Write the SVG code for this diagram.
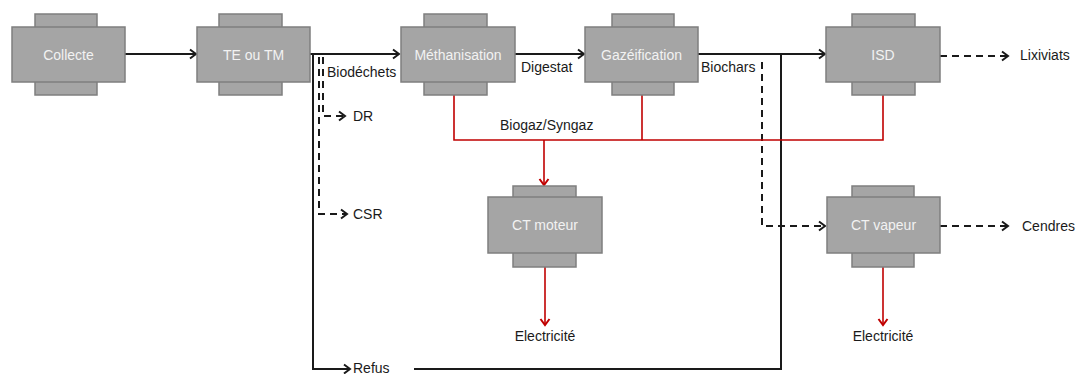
<svg xmlns="http://www.w3.org/2000/svg" width="1076" height="374" viewBox="0 0 1076 374">
<style>
.box{fill:#a5a5a5;stroke:#7f7f7f;stroke-width:1.5}
.nt{font-family:"Liberation Sans",Arial,sans-serif;font-size:14px;fill:#f2f2f2;text-anchor:middle}
.lb{font-family:"Liberation Sans",Arial,sans-serif;font-size:14px;fill:#1a1a1a}
.s{fill:none;stroke:#1a1a1a;stroke-width:2}
.d{fill:none;stroke:#1a1a1a;stroke-width:2;stroke-dasharray:7 5}
.r{fill:none;stroke:#c00000;stroke-width:1.6}
</style>
<defs>
<marker id="ab" markerUnits="userSpaceOnUse" markerWidth="10" markerHeight="12" refX="8" refY="6" orient="auto">
<path d="M2,1.5 L8,6 L2,10.5" fill="none" stroke="#1a1a1a" stroke-width="2"/>
</marker>
<marker id="ar" markerUnits="userSpaceOnUse" markerWidth="10" markerHeight="12" refX="8" refY="6" orient="auto">
<path d="M2,1.5 L8,6 L2,10.5" fill="none" stroke="#c00000" stroke-width="2"/>
</marker>
</defs>
<g id="connectors">
<path class="s" d="M125,54 H196" marker-end="url(#ab)"/>
<path class="s" d="M310,54 H399" marker-end="url(#ab)"/>
<path class="s" d="M515,54 H584" marker-end="url(#ab)"/>
<path class="s" d="M698,54 H825" marker-end="url(#ab)"/>
<path class="s" d="M313,54 V369 H350" marker-end="url(#ab)"/>
<path class="s" d="M414,369 H781 V54"/>
<path class="d" d="M323,57 V116 H345" marker-end="url(#ab)"/>
<path class="d" d="M319,57 V214 H347" marker-end="url(#ab)"/>
<path class="d" d="M762,62 V226 H825" marker-end="url(#ab)"/>
<path class="d" d="M940,56 H1008" marker-end="url(#ab)"/>
<path class="d" d="M940,226 H1008" marker-end="url(#ab)"/>
<path class="r" d="M454,95 V140 H883 V95"/>
<path class="r" d="M642,95 V140"/>
<path class="r" d="M544,140 V185" marker-end="url(#ar)"/>
<path class="r" d="M545,267 V325" marker-end="url(#ar)"/>
<path class="r" d="M883,267 V325" marker-end="url(#ar)"/>
</g>
<g id="collecte">
<rect class="box" x="35" y="14" width="62" height="81"/>
<rect class="box" x="12" y="27" width="113" height="55"/>
<text class="nt" x="68.5" y="59.5">Collecte</text>
</g>
<g id="te-tm">
<rect class="box" x="219" y="14" width="63" height="81"/>
<rect class="box" x="197" y="27" width="113" height="55"/>
<text class="nt" x="253.5" y="59.5">TE ou TM</text>
</g>
<g id="methanisation">
<rect class="box" x="424" y="14" width="63" height="81"/>
<rect class="box" x="401" y="27" width="114" height="55"/>
<text class="nt" x="458" y="59.5">Méthanisation</text>
</g>
<g id="gazeification">
<rect class="box" x="612" y="14" width="62" height="81"/>
<rect class="box" x="585" y="27" width="113" height="55"/>
<text class="nt" x="641.5" y="59.5">Gazéification</text>
</g>
<g id="isd">
<rect class="box" x="852" y="14" width="63" height="81"/>
<rect class="box" x="826" y="27" width="114" height="55"/>
<text class="nt" x="883" y="59.5">ISD</text>
</g>
<g id="ct-moteur">
<rect class="box" x="513" y="186" width="63" height="81"/>
<rect class="box" x="488" y="197" width="114" height="56"/>
<text class="nt" x="545" y="230">CT moteur</text>
</g>
<g id="ct-vapeur">
<rect class="box" x="852" y="186" width="62" height="81"/>
<rect class="box" x="827" y="197" width="113" height="56"/>
<text class="nt" x="883.5" y="230">CT vapeur</text>
</g>
<g id="labels">
<text class="lb" x="327" y="77">Biodéchets</text>
<text class="lb" x="353" y="121">DR</text>
<text class="lb" x="353" y="219">CSR</text>
<text class="lb" x="353" y="373">Refus</text>
<text class="lb" x="521" y="72">Digestat</text>
<text class="lb" x="701" y="72">Biochars</text>
<text class="lb" x="500" y="130">Biogaz/Syngaz</text>
<text class="lb" x="1020" y="60">Lixiviats</text>
<text class="lb" x="1022" y="231">Cendres</text>
<text class="lb" x="545" y="341" text-anchor="middle">Electricité</text>
<text class="lb" x="883" y="341" text-anchor="middle">Electricité</text>
</g>
</svg>
